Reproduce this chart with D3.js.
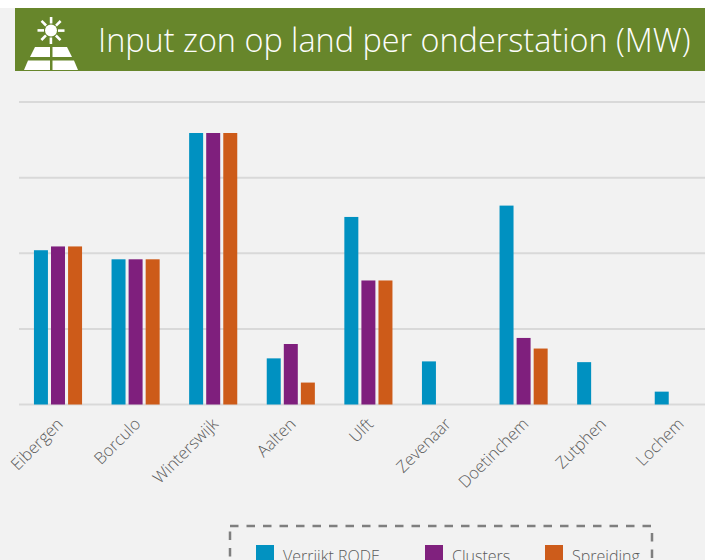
<!DOCTYPE html>
<html>
<head>
<meta charset="utf-8">
<script src="https://cdn.jsdelivr.net/npm/d3@7"></script>
<style>
  html, body { margin: 0; padding: 0; background: #f2f2f2; overflow: hidden; }
  text { font-family: "Open Sans", sans-serif; font-weight: 300; }
</style>
</head>
<body>
<div class="canvas"></div>
<script>
const titleText = "Input zon op land per onderstation (MW)";
const categories = ["Eibergen", "Borculo", "Winterswijk", "Aalten", "Ulft", "Zevenaar", "Doetinchem", "Zutphen", "Lochem"];
const seriesNames = ["Verrijkt RODE", "Clusters", "Spreiding"];
const seriesColors = ["#0091c1", "#7f1f7d", "#cd5b19"];
const verrijkt = [102, 96, 179.5, 30.5, 124, 28.5, 131.5, 28, 8.5];
const clusters = [104.5, 96, 179.5, 40, 82, 0, 44, 0, 0];
const spreiding = [104.5, 96, 179.5, 14.5, 82, 0, 37, 0, 0];
const gridTicks = [0, 50, 100, 150, 200];
const allSeries = [verrijkt, clusters, spreiding];

const svg = d3.select(".canvas").append("svg")
  .attr("width", 705)
  .attr("height", 560)
  .style("display", "block");

// top strip and title banner
svg.append("rect").attr("width", 705).attr("height", 8).attr("fill", "#ffffff");
svg.append("rect").attr("x", 15).attr("y", 8).attr("width", 690).attr("height", 63).attr("fill", "#67862b");
svg.append("text")
  .attr("x", 98)
  .attr("y", 52)
  .attr("font-size", 32.4)
  .attr("fill", "#ffffff")
  .attr("opacity", 0.99)
  .text(titleText);

// sun + solar panel icon
const icon = svg.append("g").attr("fill", "#ffffff");
icon.append("circle").attr("cx", 51).attr("cy", 30.5).attr("r", 6);
d3.range(8).forEach((i) => {
  icon.append("rect")
    .attr("x", 49.8).attr("y", 17).attr("width", 2.6).attr("height", 6.5)
    .attr("transform", `rotate(${i * 45} 51 30.5)`);
});
icon.append("path").attr("d", "M35 47H50V57H30Z");
icon.append("path").attr("d", "M52.5 47H67L72 57H52.5Z");
icon.append("path").attr("d", "M28 60.5H50V70H24Z");
icon.append("path").attr("d", "M52.5 60.5H74L78 70H52.5Z");

// scales
const margin = { left: 19.2, right: 717.6, top: 102, bottom: 404.5 };
const xScale = d3.scaleBand()
  .domain(categories)
  .range([margin.left, margin.right])
  .paddingInner(0)
  .paddingOuter(0);
const groupScale = d3.scaleBand()
  .domain(seriesNames)
  .range([xScale.bandwidth() * 0.19, xScale.bandwidth() * 0.81])
  .paddingInner(0.18)
  .paddingOuter(0);
const yScale = d3.scaleLinear().domain([0, 200]).range([margin.bottom, margin.top]);

// gridlines
svg.append("g")
  .selectAll("line")
  .data(gridTicks)
  .enter()
  .append("line")
  .attr("x1", 19)
  .attr("x2", 705)
  .attr("y1", (d) => yScale(d))
  .attr("y2", (d) => yScale(d))
  .attr("stroke", "#d9d9d9")
  .attr("stroke-width", 2);

// bars
seriesNames.forEach((name, s) => {
  svg.append("g")
    .selectAll("rect")
    .data(allSeries[s])
    .enter()
    .append("rect")
    .attr("x", (d, i) => xScale(categories[i]) + groupScale(name))
    .attr("y", (d) => yScale(d))
    .attr("width", groupScale.bandwidth())
    .attr("height", (d) => yScale(0) - yScale(d))
    .attr("fill", seriesColors[s]);
});

// category labels
svg.append("g")
  .attr("opacity", 0.99)
  .selectAll("text")
  .data(categories)
  .enter()
  .append("text")
  .attr("text-anchor", "end")
  .attr("font-size", 16.5)
  .attr("fill", "#595959")
  .attr("transform", (d) => `translate(${xScale(d) + xScale.bandwidth() / 2 + 6},${425}) rotate(-45)`)
  .text((d) => d);

// legend
svg.append("rect")
  .attr("x", 230)
  .attr("y", 526)
  .attr("width", 422)
  .attr("height", 80)
  .attr("fill", "none")
  .attr("stroke", "#7f7f7f")
  .attr("stroke-width", 2.5)
  .attr("stroke-dasharray", "8.5 8");

const legendX = d3.scaleOrdinal().domain(seriesNames).range([256, 425, 545]);
const legend = svg.append("g")
  .attr("opacity", 0.99)
  .selectAll("g")
  .data(seriesNames)
  .enter()
  .append("g")
  .attr("transform", (d) => `translate(${legendX(d)},545)`);
legend.append("rect")
  .attr("width", 18)
  .attr("height", 18)
  .attr("fill", (d, i) => seriesColors[i]);
legend.append("text")
  .attr("x", 27)
  .attr("y", 17)
  .attr("font-size", 16)
  .attr("fill", "#595959")
  .text((d) => d);
</script>
</body>
</html>
